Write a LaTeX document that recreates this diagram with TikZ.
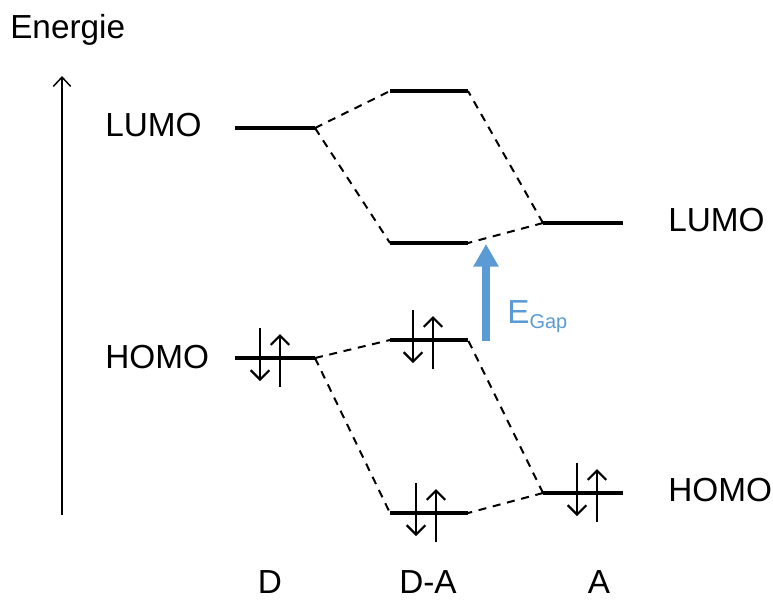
\documentclass[tikz,border=0pt]{standalone}
\usepackage{fontspec}
\setmainfont{Liberation Sans}
\usetikzlibrary{arrows.meta, positioning}

\definecolor{gapblue}{HTML}{5B9BD5}

% pair of spins on a level: #1 = x of down spin, #2 = y of level
\newcommand{\spinpair}[2]{
    \draw[spin] (#1, #2-30) -- (#1, #2+23);
    \draw[spin] (#1+20, #2+29) -- (#1+20, #2-24);
}

\begin{document}
\begin{tikzpicture}[x=0.75pt,y=-0.75pt,font=\fontsize{25}{30}\selectfont,
        level/.style={line width=3pt},
        link/.style={line width=1.5pt, dash pattern=on 6pt off 5pt},
        spin/.style={line width=1.6pt, -{Straight Barb[length=7pt,width=14pt,line width=1.6pt]}},
        lbl/.style={inner sep=0pt}]
    \useasboundingbox (0,0) rectangle (773,601);

    % energy axis
    \node at (10, 30) [lbl, anchor=west] (energie) {Energie};
    \coordinate (axis_lo) at (62, 515);
    \coordinate (axis_hi) at (62, 76);
    \draw[line width=1.1pt, -{Straight Barb[length=7pt,width=13pt,line width=1.1pt]}] (axis_lo) -- (axis_hi);

    % levels of D
    \coordinate (D_L1) at (235, 128);  \coordinate (D_L2) at (315, 128);
    \coordinate (D_H1) at (235, 358);  \coordinate (D_H2) at (315, 358);
    % levels of D-A
    \coordinate (DA_U1) at (390, 91);  \coordinate (DA_U2) at (468, 91);
    \coordinate (DA_L1) at (390, 243); \coordinate (DA_L2) at (468, 243);
    \coordinate (DA_H1) at (390, 340); \coordinate (DA_H2) at (468, 340);
    \coordinate (DA_B1) at (390, 513); \coordinate (DA_B2) at (468, 513);
    % levels of A
    \coordinate (A_L1) at (543, 223);  \coordinate (A_L2) at (623, 223);
    \coordinate (A_H1) at (543, 493);  \coordinate (A_H2) at (623, 493);

    \draw[level] (D_L1) -- (D_L2)  (D_H1) -- (D_H2)
                 (DA_U1) -- (DA_U2)  (DA_L1) -- (DA_L2)
                 (DA_H1) -- (DA_H2)  (DA_B1) -- (DA_B2)
                 (A_L1) -- (A_L2)  (A_H1) -- (A_H2);

    \draw[link] (D_L2) -- (DA_U1)  (D_L2) -- (DA_L1)
                (A_L1) -- (DA_U2)  (A_L1) -- (DA_L2)
                (D_H2) -- (DA_H1)  (D_H2) -- (DA_B1)
                (A_H1) -- (DA_H2)  (A_H1) -- (DA_B2);

    % electrons
    \spinpair{260}{358}
    \spinpair{413}{340}
    \spinpair{416}{513}
    \spinpair{577}{493}

    % labels
    \node at (105, 125) [lbl, anchor=west] (lumo_D) {LUMO};
    \node at (105, 357) [lbl, anchor=west] (homo_D) {HOMO};
    \node at (668, 220) [lbl, anchor=west] (lumo_A) {LUMO};
    \node at (668, 490) [lbl, anchor=west] (homo_A) {HOMO};
    \node at (270, 582) [lbl] (name_D) {D};
    \node at (428, 582) [lbl] (name_DA) {D-A};
    \node at (599, 582) [lbl] (name_A) {A};

    % gap
    \coordinate (gap_lo) at (486, 341);
    \coordinate (gap_hi) at (486, 244);
    \draw[gapblue, line width=6.5pt, -{Triangle[length=17pt,width=18pt]}] (gap_lo) -- (gap_hi);
    \node at (507, 317) [lbl, anchor=west, text=gapblue] (egap) {E\textsubscript{\fontsize{15}{18}\selectfont Gap}};
\end{tikzpicture}
\end{document}
